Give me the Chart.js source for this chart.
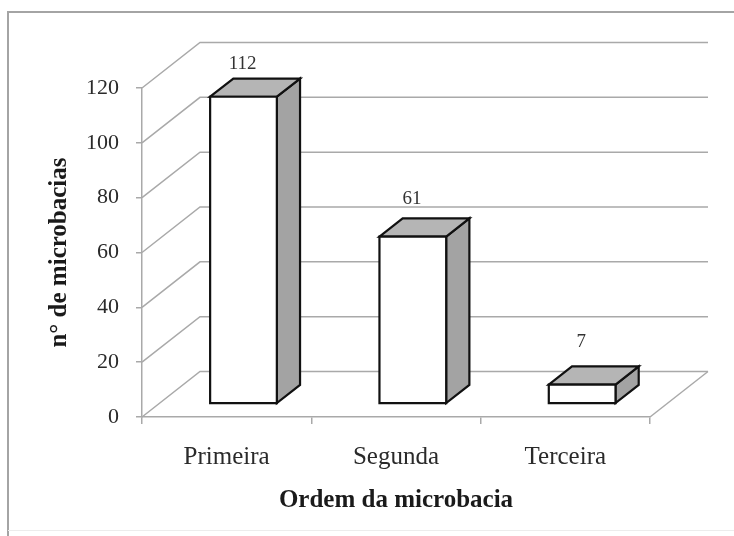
<!DOCTYPE html>
<html>
<head>
<meta charset="utf-8">
<script src="https://cdn.jsdelivr.net/npm/chart.js@4/dist/chart.umd.min.js"></script>
<style>
  body { margin: 0; background: #fff; }
  canvas { display: block; }
</style>
</head>
<body>
<canvas id="myChart" width="734" height="536"></canvas>
<script>
const categories = ["Primeira", "Segunda", "Terceira"];
const counts = [112, 61, 7];
const yTicks = [0, 20, 40, 60, 80, 100, 120];

// depth of the floor / side wall, and where the boxes sit inside it
const DEPTH_X = 58, DEPTH_Y = -45.5;
const BAR_SHIFT = 0.29, BAR_DEPTH = 0.4;
const gridColor = "#a9a9a9";
const serif = "'Liberation Serif', 'Times New Roman', serif";

const frame = {
    id: "frame",
    beforeDraw(chart) {
        const ctx = chart.ctx;
        ctx.save();
        ctx.strokeStyle = "#a4a4a4";
        ctx.lineWidth = 2;
        ctx.beginPath();
        ctx.moveTo(8, 536);
        ctx.lineTo(8, 12);
        ctx.lineTo(734, 12);
        ctx.stroke();
        ctx.strokeStyle = "#ececec";
        ctx.lineWidth = 1;
        ctx.beginPath();
        ctx.moveTo(8, 530.5);
        ctx.lineTo(734, 530.5);
        ctx.stroke();
        ctx.restore();
    }
};

const box3d = {
    id: "box3d",
    beforeDatasetsDraw(chart) {
        const { ctx, chartArea: a, scales: { x, y } } = chart;
        ctx.save();

        // side wall diagonals + back wall lines
        ctx.strokeStyle = gridColor;
        ctx.lineWidth = 1.5;
        yTicks.forEach(v => {
            const py = y.getPixelForValue(v);
            ctx.beginPath();
            ctx.moveTo(a.left, py);
            ctx.lineTo(a.left + DEPTH_X, py + DEPTH_Y);
            ctx.lineTo(a.right + DEPTH_X, py + DEPTH_Y);
            ctx.stroke();
        });
        const p0 = y.getPixelForValue(0);
        ctx.beginPath();
        ctx.moveTo(a.right, p0);
        ctx.lineTo(a.right + DEPTH_X, p0 + DEPTH_Y);
        ctx.stroke();

        // boxes
        const sx = DEPTH_X * BAR_SHIFT, sy = DEPTH_Y * BAR_SHIFT;
        const bx = DEPTH_X * BAR_DEPTH, by = DEPTH_Y * BAR_DEPTH;
        const meta = chart.getDatasetMeta(0);
        ctx.strokeStyle = "#111";
        ctx.lineWidth = 2.2;
        ctx.lineJoin = "miter";
        meta.data.forEach((el, i) => {
            const L = el.x - el.width / 2 + sx;
            const R = el.x + el.width / 2 + sx;
            const top = el.y + sy;
            const base = el.base + sy;

            ctx.fillStyle = "#a3a3a3";
            ctx.beginPath();
            ctx.moveTo(R, top);
            ctx.lineTo(R + bx, top + by);
            ctx.lineTo(R + bx, base + by);
            ctx.lineTo(R, base);
            ctx.closePath();
            ctx.fill();
            ctx.stroke();

            ctx.fillStyle = "#b5b5b5";
            ctx.beginPath();
            ctx.moveTo(L, top);
            ctx.lineTo(L + bx, top + by);
            ctx.lineTo(R + bx, top + by);
            ctx.lineTo(R, top);
            ctx.closePath();
            ctx.fill();
            ctx.stroke();

            ctx.fillStyle = "#ffffff";
            ctx.beginPath();
            ctx.rect(L, top, R - L, base - top);
            ctx.fill();
            ctx.stroke();

            // value label above the box
            ctx.fillStyle = "#333";
            ctx.font = "19px " + serif;
            ctx.textAlign = "center";
            ctx.textBaseline = "middle";
            ctx.fillText(String(counts[i]), el.x + 16, top + by - (25 - counts[i] * 0.09));
        });
        ctx.restore();
        return false;
    }
};

const ctx = document.getElementById("myChart");

new Chart(ctx, {
    type: "bar",
    data: {
        labels: categories,
        datasets: [{
            data: counts,
            categoryPercentage: 1,
            barPercentage: 0.394
        }]
    },
    options: {
        responsive: false,
        animation: false,
        layout: { padding: { left: 0, right: 84, top: 88, bottom: 0 } },
        plugins: {
            legend: { display: false },
            tooltip: { enabled: false }
        },
        scales: {
            x: {
                afterFit: s => { s.height = 119; },
                grid: { drawOnChartArea: false, drawTicks: true, tickLength: 7, color: gridColor, lineWidth: 1.5 },
                border: { display: true, color: gridColor, width: 1.5 },
                ticks: { color: "#2a2a2a", font: { family: serif, size: 25 }, padding: 18 },
                title: {
                    display: true,
                    text: "Ordem da microbacia",
                    color: "#1a1a1a",
                    font: { family: serif, size: 25, weight: "bold" },
                    padding: { top: 0, bottom: 20 }
                }
            },
            y: {
                min: 0,
                max: 120,
                afterFit: s => { s.width = 142; },
                grid: { drawOnChartArea: false, drawTicks: true, tickLength: 6, color: gridColor, lineWidth: 1.5 },
                border: { display: true, color: gridColor, width: 1.5 },
                ticks: { stepSize: 20, color: "#2a2a2a", font: { family: serif, size: 22 }, padding: 17 },
                title: {
                    display: true,
                    text: "n° de microbacias",
                    color: "#1a1a1a",
                    font: { family: serif, size: 25, weight: "bold" },
                    padding: { top: 45, bottom: 0 }
                }
            }
        }
    },
    plugins: [frame, box3d]
});
</script>
</body>
</html>
